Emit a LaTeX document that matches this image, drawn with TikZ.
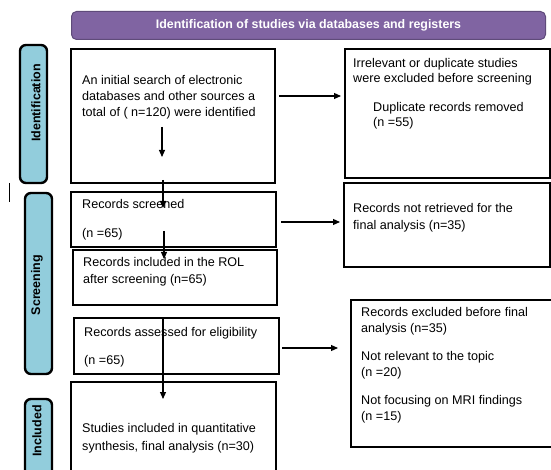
\documentclass[tikz,border=0pt]{standalone}
\usepackage{fontspec}
\setmainfont{Liberation Sans}
\usepackage{tikz}
\usetikzlibrary{arrows.meta}

\definecolor{titlepurple}{HTML}{8064A2}
\definecolor{titleedge}{HTML}{5F4B7A}
\definecolor{sideblue}{HTML}{92CDDC}

\begin{document}
\begin{tikzpicture}[x=1pt,y=-1pt,
        box/.style={draw=black,line width=2pt,anchor=north west,inner sep=0pt},
        sidebox/.style={draw=black,line width=2.4pt,fill=sideblue,rounded corners=6pt},
        sidetext/.style={rotate=90,inner sep=0pt,font=\fontsize{12.5}{14}\selectfont\bfseries},
        txt/.style={anchor=north west,inner sep=0pt,align=left,font=\fontsize{12.6}{16}\selectfont},
        arr/.style={line width=1.1pt,-{Triangle[length=7pt,width=6pt]}}]
        \useasboundingbox (0,0) rectangle (551,470);
        \clip (0,0) rectangle (551,470);

        % Draw the title bar
        \node[fill=titlepurple,draw=titleedge,line width=1pt,rounded corners=5pt,
              anchor=north west,minimum width=474,minimum height=28,inner sep=0pt,
              text=white,font=\fontsize{12.4}{14}\selectfont\bfseries]
            (title) at (71,11) {Identification of studies via databases and registers};

        % Draw the side boxes
        \draw[sidebox] (20,45) rectangle (47,183);
        \draw[sidebox] (25,193) rectangle (52,374);
        \draw[sidebox] (25,399) rectangle (52,490);
        \node[sidetext] (identlbl) at (36,103) {Identification};
        \node[sidetext] (screenlbl) at (37,285) {Screening};
        \node[sidetext] (incllbl) at (37,431) {Included};
        \draw[line width=0.8pt] (9,183) -- (9,202);

        % Draw the left boxes
        \node[box,minimum width=204,minimum height=134] (search) at (70,48) {};
        \node[box,minimum width=205,minimum height=55] (screen) at (70,191) {};
        \node[box,minimum width=204,minimum height=55] (rol) at (72,249) {};
        \node[box,minimum width=205,minimum height=56] (assess) at (73,317) {};
        \node[box,minimum width=205,minimum height=99] (final) at (70,381) {};

        % Draw the right boxes
        \node[box,minimum width=205,minimum height=129] (excl1) at (344,48) {};
        \node[box,minimum width=206,minimum height=84] (excl2) at (343,182) {};
        \node[box,minimum width=210,minimum height=147] (excl3) at (350,299) {};

        % the texts
        \node[txt] (searchtxt) at (82,75)
            {An initial search of electronic\\databases and other sources a\\total of ( n=120) were identified};
        \node[txt,font=\fontsize{12.6}{15}\selectfont] (excl1txt) at (353,58)
            {Irrelevant or duplicate studies\\were excluded before screening};
        \node[txt,font=\fontsize{12.6}{15}\selectfont] (duptxt) at (373,102)
            {Duplicate records removed\\(n =55)};
        \node[txt,font=\fontsize{12.6}{17}\selectfont] (excl2txt) at (353,203)
            {Records not retrieved for the\\final analysis (n=35)};
        \node[txt] (screentxt) at (82,199) {Records screened\\[13pt](n =65)};
        \node[txt,font=\fontsize{12.6}{17}\selectfont] (roltxt) at (83,257)
            {Records included in the ROL\\after screening (n=65)};
        \node[txt] (assesstxt) at (84,327) {Records assessed for eligibility\\[12pt](n =65)};
        \node[txt,font=\fontsize{12.6}{18}\selectfont] (finaltxt) at (82,423)
            {Studies included in quantitative\\synthesis, final analysis (n=30)};
        \node[txt,font=\fontsize{12.6}{16.5}\selectfont] (excl3txt) at (361,307)
            {Records excluded before final\\analysis (n=35)\\[11pt]Not relevant to the topic\\(n =20)\\[11pt]Not focusing on MRI findings\\(n =15)};

        % draw the arrows
        \draw[arr,shorten >=3pt] ([shift={(3,48)}]search.north east) coordinate (a1) -- (a1 -| excl1.west);
        \draw[arr,shorten >=3pt] ([shift={(4,31)}]screen.north east) coordinate (a2) -- (a2 -| excl2.west);
        \draw[arr,shorten >=12pt] ([shift={(2,31)}]assess.north east) coordinate (a3) -- (a3 -| excl3.west);
        \draw[arr] ([shift={(92,79)}]search.north west) -- ([shift={(92,109)}]search.north west);
        \draw[arr] ([shift={(93,-4)}]search.south west) -- ([shift={(93,17)}]screen.north west);
        \draw[arr] ([shift={(94,40)}]screen.north west) -- ([shift={(92,10)}]rol.north west);
        \draw[arr] ([shift={(90,0)}]assess.north west) -- ([shift={(93,18)}]final.north west);
\end{tikzpicture}
\end{document}
